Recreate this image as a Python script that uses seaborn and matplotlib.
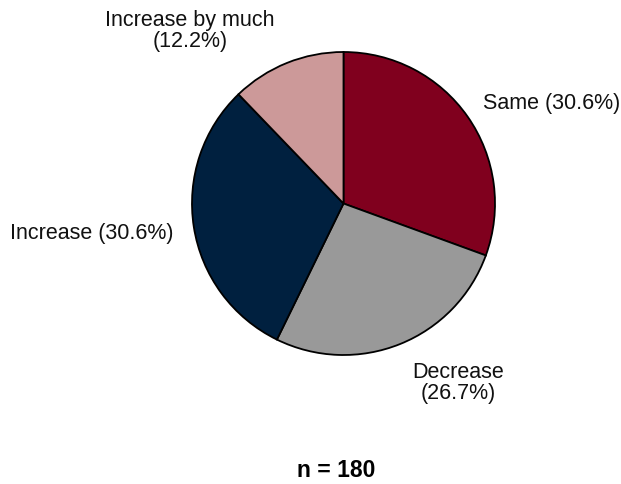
import matplotlib
matplotlib.use("Agg")
import matplotlib.pyplot as plt
import seaborn as sns

categories = ["Same", "Decrease", "Increase", "Increase by much"]
percents = [30.6, 26.7, 30.6, 12.2]
colors = ["#80001e", "#999999", "#00203f", "#cc9999"]
n_total = 180

sns.set_theme(style="white")
plt.rcParams['font.family'] = ['Liberation Sans', 'DejaVu Sans']

W, H = 621, 485
fig = plt.figure(figsize=(W / 100, H / 100), dpi=100)
ax = fig.add_axes([0, 0, 1, 1])

ax.pie(percents, colors=colors, startangle=90, counterclock=False,
       center=(343.5, H - 204.5), radius=151.5,
       wedgeprops=dict(edgecolor="black", linewidth=1.3), frame=True)
ax.set_xlim(0, W)
ax.set_ylim(0, H)
ax.set_aspect("equal")
ax.axis("off")

fs = 15.5
def py(y):
    return H - y

ax.text(483, py(103), f"{categories[0]} ({percents[0]}%)", fontsize=fs,
        ha="left", va="center", color="#111111")
ax.text(458, py(383), f"{categories[1]}\n({percents[1]}%)", fontsize=fs,
        ha="center", va="center", color="#111111", linespacing=1.05)
ax.text(10, py(234), f"{categories[2]} ({percents[2]}%)", fontsize=fs,
        ha="left", va="center", color="#111111")
ax.text(190, py(31), f"{categories[3]}\n({percents[3]}%)", fontsize=fs,
        ha="center", va="center", color="#111111", linespacing=1.05)
ax.text(336, py(471), f"n = {n_total}", fontsize=16.5, fontweight="bold",
        ha="center", va="center", color="black")

fig.savefig("out.png", dpi=100)
